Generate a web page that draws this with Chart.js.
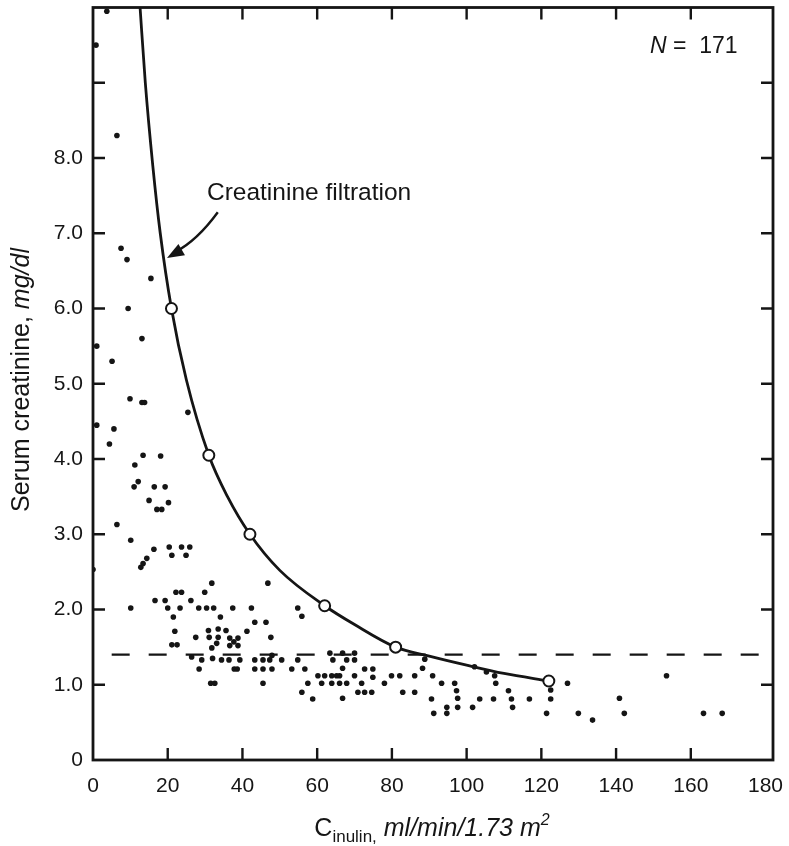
<!DOCTYPE html>
<html>
<head>
<meta charset="utf-8">
<title>Serum creatinine vs inulin clearance</title>
<script src="https://cdn.jsdelivr.net/npm/chart.js@4.4.1/dist/chart.umd.min.js"></script>
<style>
  html, body { margin: 0; padding: 0; background: #fff; }
  #wrap { width: 789px; height: 846px; }
</style>
</head>
<body>
<div id="wrap"><canvas id="creatChart" width="789" height="846"></canvas></div>
<script>
// patients (C inulin, serum creatinine)
const patientsX = [3.7, 0.8, 6.4, 7.5, 9.1, 15.5, 9.4, 13.1, 1.0, 5.1, 9.9, 13.1, 13.8, 25.4, 1.0, 5.6, 4.4, 13.4, 18.1, 11.2,
  12.1, 11.0, 16.4, 19.3, 15.0, 20.2, 17.1, 18.4, 6.4, 10.1, 0.0, 12.8, 13.4, 14.4, 16.3, 20.4, 21.1, 23.7, 25.9, 24.9,
  31.8, 29.9, 22.2, 23.7, 16.6, 19.3, 26.2, 10.1, 20.0, 23.3, 28.3, 30.4, 32.3, 37.4, 42.4, 21.5, 34.1, 43.3, 21.9, 30.9,
  33.5, 35.6, 41.2, 27.5, 31.1, 33.5, 36.6, 38.8, 36.6, 38.8, 37.7, 21.1, 22.5, 33.1, 31.8, 26.4, 29.1, 32.0, 34.4, 36.4,
  39.3, 43.3, 28.4, 37.8, 38.6, 43.3, 31.5, 32.6, 46.8, 46.3, 47.6, 54.8, 55.9, 47.9, 50.5, 63.4, 66.8, 70.0, 64.2, 67.9,
  70.0, 45.5, 47.9, 53.2, 56.7, 45.5, 57.5, 55.9, 58.8, 66.8, 72.7, 74.9, 74.9, 60.2, 62.0, 63.9, 65.2, 66.0, 61.2, 63.9,
  66.0, 67.9, 70.0, 71.9, 70.9, 72.7, 74.6, 66.8, 78.0, 79.9, 82.1, 82.9, 86.1, 86.1, 88.2, 88.8, 90.9, 93.3, 90.6, 91.2,
  94.7, 94.7, 96.8, 97.3, 97.6, 97.6, 101.6, 103.5, 102.1, 105.3, 107.5, 107.8, 107.2, 111.2, 112.0, 112.3, 116.8, 121.4, 122.5, 122.5,
  127.0, 129.9, 133.7, 140.9, 142.2, 153.5, 163.4, 168.4, 45.5, 54.8, 47.3];
const patientsY = [9.95, 9.5, 8.3, 6.8, 6.65, 6.4, 6.0, 5.6, 5.5, 5.3, 4.8, 4.75, 4.75, 4.62, 4.45, 4.4, 4.2, 4.05, 4.04, 3.92,
  3.7, 3.63, 3.63, 3.63, 3.45, 3.42, 3.33, 3.33, 3.13, 2.92, 2.53, 2.56, 2.61, 2.68, 2.8, 2.83, 2.72, 2.83, 2.83, 2.72,
  2.35, 2.23, 2.23, 2.23, 2.12, 2.12, 2.12, 2.02, 2.02, 2.02, 2.02, 2.02, 2.02, 2.02, 2.02, 1.9, 1.9, 1.83, 1.71, 1.72,
  1.74, 1.72, 1.71, 1.63, 1.63, 1.63, 1.62, 1.62, 1.52, 1.52, 1.57, 1.53, 1.53, 1.55, 1.49, 1.37, 1.33, 1.35, 1.33, 1.33,
  1.33, 1.33, 1.21, 1.21, 1.21, 1.21, 1.02, 1.02, 2.35, 1.83, 1.63, 2.02, 1.91, 1.39, 1.33, 1.42, 1.42, 1.42, 1.33, 1.33,
  1.33, 1.21, 1.21, 1.21, 1.21, 1.02, 1.02, 0.9, 0.81, 1.22, 1.21, 1.21, 1.1, 1.12, 1.12, 1.12, 1.12, 1.12, 1.02, 1.02,
  1.02, 1.02, 1.12, 1.02, 0.9, 0.9, 0.9, 0.82, 1.02, 1.12, 1.12, 0.9, 1.12, 0.9, 1.22, 1.34, 1.12, 1.02, 0.81, 0.62,
  0.7, 0.62, 1.02, 0.92, 0.82, 0.7, 0.7, 0.81, 1.24, 1.17, 1.12, 1.02, 0.81, 0.92, 0.81, 0.7, 0.81, 0.62, 0.93, 0.81,
  1.02, 0.62, 0.53, 0.82, 0.62, 1.12, 0.62, 0.62, 1.33, 1.33, 1.33];

// creatinine filtration curve
const curveX = [12.6, 14, 16, 18, 21, 25, 31, 36, 42, 50, 62, 70, 81, 90, 100, 110, 122];
const curveY = [10.0, 9.0, 7.9, 7.0, 6.0, 5.05, 4.05, 3.5, 3.0, 2.52, 2.05, 1.8, 1.5, 1.38, 1.26, 1.15, 1.05];

// open circles on the curve
const markerX = [21, 31, 42, 62, 81, 122];
const markerY = [6.0, 4.05, 3.0, 2.05, 1.5, 1.05];

// upper normal limit (dashed)
const limitX = [5, 182];
const limitY = [1.4, 1.4];

const xTicks = [0, 20, 40, 60, 80, 100, 120, 140, 160, 180];
const yTicks = [0, 1, 2, 3, 4, 5, 6, 7, 8, 9, 10];
const yLabelMax = 8;

const ink = "#151515";
const fontFam = '"Liberation Sans", Arial, sans-serif';

function pairs(xs, ys) {
  return xs.map((x, i) => ({ x: x, y: ys[i] }));
}

const framePlugin = {
  id: "frameAndText",
  afterDatasetsDraw(chart) {
    const ctx = chart.ctx;
    const a = chart.chartArea;
    const xs = chart.scales.x;
    const ys = chart.scales.y;
    ctx.save();
    ctx.strokeStyle = ink;
    ctx.lineWidth = 2.8;
    ctx.strokeRect(a.left, a.top, a.right - a.left, a.bottom - a.top);

    // inward tick marks on all four sides
    const tl = 12;
    ctx.lineWidth = 2.4;
    ctx.beginPath();
    xTicks.forEach(v => {
      if (v === 0 || v === 180) return;
      const px = xs.getPixelForValue(v);
      ctx.moveTo(px, a.bottom); ctx.lineTo(px, a.bottom - tl);
      ctx.moveTo(px, a.top); ctx.lineTo(px, a.top + tl);
    });
    yTicks.forEach(v => {
      if (v === 0 || v === 10) return;
      const py = ys.getPixelForValue(v);
      ctx.moveTo(a.left, py); ctx.lineTo(a.left + tl, py);
      ctx.moveTo(a.right, py); ctx.lineTo(a.right - tl, py);
    });
    ctx.stroke();

    ctx.fillStyle = ink;
    ctx.textBaseline = "alphabetic";

    // N = 171
    ctx.font = "italic 23px " + fontFam;
    let tx = 650;
    ctx.fillText("N", tx, 53);
    tx += ctx.measureText("N").width;
    ctx.font = "23px " + fontFam;
    ctx.fillText(" =  171", tx, 53);

    // annotation with arrow
    ctx.font = "24.5px " + fontFam;
    ctx.textBaseline = "middle";
    ctx.fillText("Creatinine filtration", xs.getPixelForValue(30.5), ys.getPixelForValue(7.53));
    const sx = xs.getPixelForValue(33.4), sy = ys.getPixelForValue(7.28);
    const cx = xs.getPixelForValue(27.8), cy = ys.getPixelForValue(6.9);
    const ex = xs.getPixelForValue(19.8), ey = ys.getPixelForValue(6.67);
    ctx.lineWidth = 2.4;
    ctx.beginPath();
    ctx.moveTo(sx, sy);
    ctx.quadraticCurveTo(cx, cy, ex + 8, ey - 6);
    ctx.stroke();
    const ang = Math.atan2(ey - cy, ex - cx);
    const hl = 17, hw = 6.5;
    ctx.beginPath();
    ctx.moveTo(ex, ey);
    ctx.lineTo(ex - hl * Math.cos(ang) + hw * Math.sin(ang), ey - hl * Math.sin(ang) - hw * Math.cos(ang));
    ctx.lineTo(ex - hl * Math.cos(ang) - hw * Math.sin(ang), ey - hl * Math.sin(ang) + hw * Math.cos(ang));
    ctx.closePath();
    ctx.fill();

    // x axis title: C inulin, ml/min/1.73 m2
    ctx.textBaseline = "alphabetic";
    const parts = [
      { t: "C", f: "25px ", dy: 0 },
      { t: "inulin,", f: "17px ", dy: 6 },
      { t: " ", f: "25px ", dy: 0 },
      { t: "ml/min/1.73 m", f: "italic 25px ", dy: 0 },
      { t: "2", f: "italic 16px ", dy: -11 }
    ];
    let w = 0;
    parts.forEach(p => { ctx.font = p.f + fontFam; p.w = ctx.measureText(p.t).width; w += p.w; });
    tx = 432 - w / 2;
    parts.forEach(p => {
      ctx.font = p.f + fontFam;
      ctx.fillText(p.t, tx, 836 + p.dy);
      tx += p.w;
    });

    // y axis title
    ctx.translate(22, 380);
    ctx.rotate(-Math.PI / 2);
    ctx.textBaseline = "middle";
    ctx.font = "25px " + fontFam;
    const t1 = "Serum creatinine, ";
    const w1 = ctx.measureText(t1).width;
    ctx.font = "italic 25px " + fontFam;
    const w2 = ctx.measureText("mg/dl").width;
    ctx.font = "25px " + fontFam;
    ctx.fillText(t1, -(w1 + w2) / 2, 0);
    ctx.font = "italic 25px " + fontFam;
    ctx.fillText("mg/dl", -(w1 + w2) / 2 + w1, 0);
    ctx.restore();
  }
};

new Chart(document.getElementById("creatChart"), {
  type: "scatter",
  data: {
    datasets: [
      {
        label: "markers",
        data: pairs(markerX, markerY),
        pointRadius: 5.5,
        pointBackgroundColor: "#fff",
        pointBorderColor: ink,
        pointBorderWidth: 2,
        order: 0
      },
      {
        type: "line",
        label: "Creatinine filtration",
        data: pairs(curveX, curveY),
        borderColor: ink,
        borderWidth: 2.8,
        pointRadius: 0,
        cubicInterpolationMode: "monotone",
        fill: false,
        order: 1
      },
      {
        type: "line",
        label: "limit",
        data: pairs(limitX, limitY),
        borderColor: ink,
        borderWidth: 2.4,
        borderDash: [18, 19],
        pointRadius: 0,
        fill: false,
        order: 2
      },
      {
        label: "patients",
        data: pairs(patientsX, patientsY),
        pointRadius: 2.8,
        pointBackgroundColor: ink,
        pointBorderWidth: 0,
        order: 3
      }
    ]
  },
  options: {
    responsive: false,
    animation: false,
    layout: { padding: { top: 5, right: 16, left: 0, bottom: 0 } },
    plugins: {
      legend: { display: false },
      tooltip: { enabled: false }
    },
    scales: {
      x: {
        type: "linear",
        min: 0,
        max: 182,
        afterBuildTicks: s => { s.ticks = xTicks.map(v => ({ value: v })); },
        afterFit: s => { s.height = 86; s.paddingLeft = 0; s.paddingRight = 0; },
        grid: { display: false, drawTicks: false },
        border: { display: false },
        ticks: {
          color: ink,
          padding: 14,
          maxRotation: 0,
          autoSkip: false,
          font: { family: fontFam, size: 21 }
        }
      },
      y: {
        type: "linear",
        min: 0,
        max: 10,
        afterBuildTicks: s => { s.ticks = yTicks.map(v => ({ value: v })); },
        afterFit: s => { s.width = 93; s.paddingTop = 0; s.paddingBottom = 0; },
        grid: { display: false, drawTicks: false },
        border: { display: false },
        ticks: {
          color: ink,
          padding: 10,
          autoSkip: false,
          font: { family: fontFam, size: 21 },
          callback: v => (v === 0 ? "0" : v > yLabelMax ? "" : v.toFixed(1))
        }
      }
    }
  },
  plugins: [framePlugin]
});
</script>
</body>
</html>
